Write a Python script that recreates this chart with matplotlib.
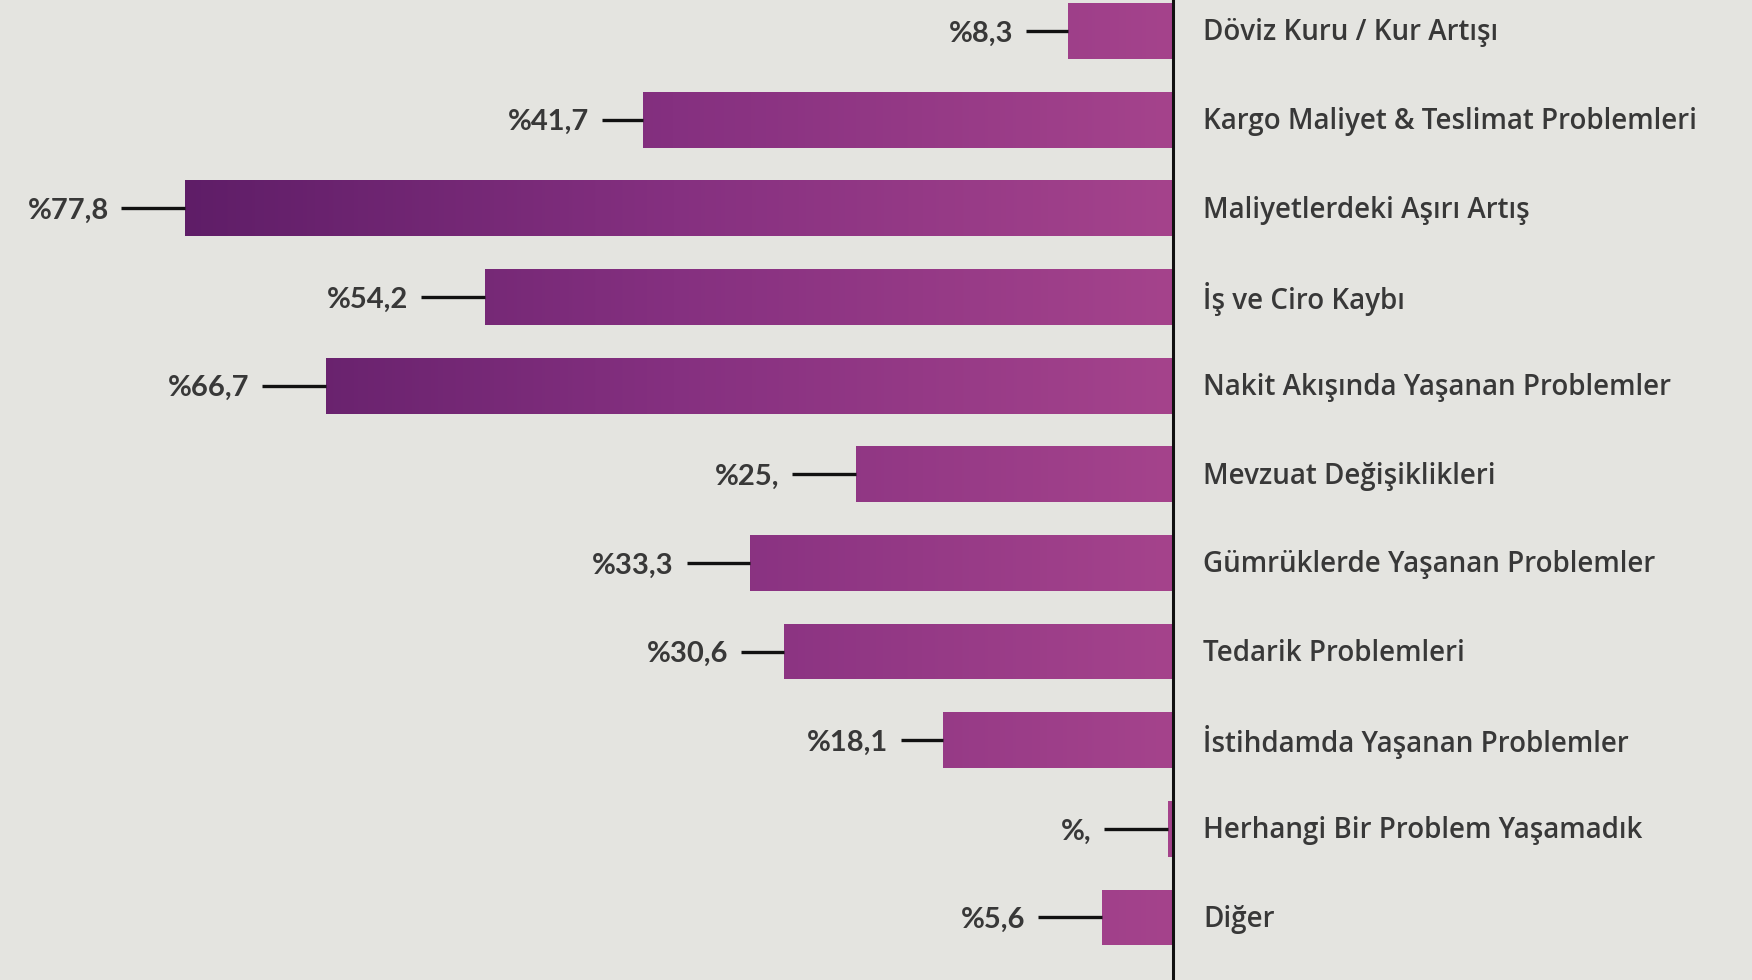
import numpy as np
import matplotlib
matplotlib.use("Agg")
import matplotlib.pyplot as plt
from matplotlib.colors import LinearSegmentedColormap
from matplotlib.patches import Rectangle

# ---- data ----
categories = [
    "Döviz Kuru / Kur Artışı",
    "Kargo Maliyet & Teslimat Problemleri",
    "Maliyetlerdeki Aşırı Artış",
    "İş ve Ciro Kaybı",
    "Nakit Akışında Yaşanan Problemler",
    "Mevzuat Değişiklikleri",
    "Gümrüklerde Yaşanan Problemler",
    "Tedarik Problemleri",
    "İstihdamda Yaşanan Problemler",
    "Herhangi Bir Problem Yaşamadık",
    "Diğer",
]
values = [8.3, 41.7, 77.8, 54.2, 66.7, 25.0, 33.3, 30.6, 18.1, 0.4, 5.6]
value_labels = ["%8,3", "%41,7", "%77,8", "%54,2", "%66,7", "%25,",
                "%33,3", "%30,6", "%18,1", "%,", "%5,6"]

# ---- style ----
leader_len = [3.3, 3.3, 5.0, 5.0, 5.0, 5.0, 5.0, 3.4, 3.3, 5.0, 5.0]
BG = "#E4E4E0"
TEXT = "#383838"
cmap = LinearSegmentedColormap.from_list("grad", ["#5E1D67", "#853080", "#A5438C"])

W, H = 1752, 980
fig = plt.figure(figsize=(W / 100, H / 100), dpi=100)
fig.patch.set_facecolor(BG)
ax = fig.add_axes([0, 0, 1, 1])
ax.set_facecolor(BG)

px_per_unit = 12.7
x0_px = 1173
x_left = x0_px / px_per_unit
x_right = -(W - x0_px) / px_per_unit
row_px = 88.65
top_px = 31
y_top = -top_px / row_px
y_bot = (H - top_px) / row_px
ax.set_xlim(x_left, x_right)
ax.set_ylim(y_bot, y_top)
ax.axis("off")

bar_h = 0.63
grad = np.linspace(0, 1, 512).reshape(1, -1)
for i, (v, lab, cat, ll) in enumerate(zip(values, value_labels, categories, leader_len)):
    rect = Rectangle((0, i - bar_h / 2), v, bar_h, transform=ax.transData,
                     facecolor="none", edgecolor="none")
    ax.add_patch(rect)
    im = ax.imshow(grad, cmap=cmap, aspect="auto",
                   extent=(78.7, 0, i + bar_h / 2, i - bar_h / 2),
                   zorder=2, interpolation="bilinear")
    im.set_clip_path(rect)
    ax.plot([v, v + ll], [i, i], color="#111111", lw=2.4, zorder=3,
            solid_capstyle="butt")
    ax.text(v + ll + 1.0, i + 0.03, lab, ha="right", va="center",
            fontsize=21, color=TEXT, family="Lato", fontweight="bold", zorder=4)
    ax.text(-2.4, i + 0.02, cat, ha="left", va="center", fontsize=20,
            color=TEXT, family="Open Sans", fontweight="semibold", zorder=4)

ax.set_xlim(x_left, x_right)
ax.set_ylim(y_bot, y_top)
ax.axvline(0, color="#111111", lw=2.2, zorder=5)

fig.savefig("out.png", dpi=100, facecolor=BG)
